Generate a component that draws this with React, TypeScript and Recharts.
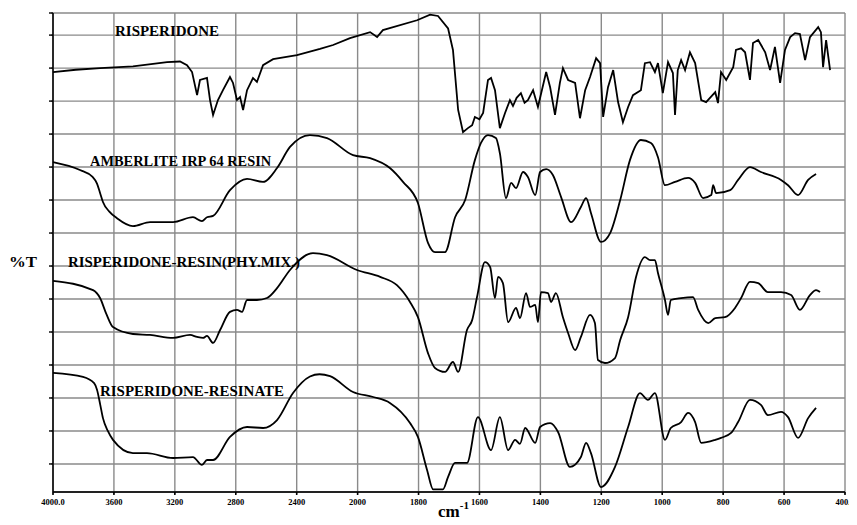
import React from "react";
import { CartesianGrid, Line, LineChart, XAxis, YAxis } from "recharts";

// wavenumber (cm-1) scale: 400 per division above 2000, 200 per division below
const X_TICKS = ["4000.0", "3600", "3200", "2800", "2400", "2000", "1800", "1600", "1400", "1200", "1000", "800", "600", "400.0"];
const Y_TICKS = [0, 1, 2, 3, 4, 5, 6, 7, 8, 9, 10, 11, 12, 13, 13.67];
const Y_MIN = -0.85;
const Y_MAX = 13.67;

// [wavenumber, %T in grid divisions]
const RISPERIDONE: [number, number][] = [
  [4000, 11.88], [3850, 11.95], [3691, 12.0], [3475, 12.05], [3251, 12.18], [3166, 12.2], [3120, 12.09], [3087, 11.88],
  [3054, 11.18], [3035, 11.64], [2989, 11.7], [2969, 11.03], [2949, 10.58], [2917, 11.03], [2884, 11.33],
  [2838, 11.73], [2818, 11.55], [2792, 11.03], [2772, 11.12], [2752, 10.73], [2726, 11.33], [2687, 11.7],
  [2661, 11.58], [2621, 12.09], [2555, 12.27], [2398, 12.39], [2247, 12.58], [2161, 12.7], [2050, 12.91],
  [1959, 13.09], [1936, 12.94], [1917, 13.15], [1805, 13.45], [1762, 13.62], [1736, 13.58], [1703, 13.2],
  [1687, 12.55], [1670, 10.73], [1654, 10.06], [1638, 10.18], [1624, 10.27], [1615, 10.52], [1600, 10.45], [1588, 10.64],
  [1572, 11.64], [1562, 11.7], [1549, 11.33], [1533, 10.18], [1516, 10.64], [1500, 11.03], [1490, 10.85], [1478, 11.1], [1464, 11.24],
  [1452, 10.95], [1441, 11.03], [1424, 11.33], [1408, 10.82], [1381, 11.88], [1368, 11.42], [1352, 10.58], [1336, 11.55],
  [1326, 12.0], [1309, 11.64], [1286, 11.55], [1270, 10.48], [1253, 11.33], [1237, 11.73], [1217, 12.3],
  [1204, 12.15], [1194, 10.52], [1178, 11.42], [1161, 11.94], [1145, 10.97], [1129, 10.36], [1112, 10.82],
  [1096, 11.18], [1070, 11.33], [1057, 12.15], [1040, 12.18], [1024, 11.88], [1014, 12.15], [998, 11.24],
  [981, 12.18], [965, 11.85], [958, 10.58], [949, 11.94], [938, 12.24], [925, 11.94], [909, 12.48],
  [892, 12.15], [872, 11.03], [856, 10.97], [826, 11.27], [817, 10.94], [807, 11.88], [790, 11.64],
  [767, 12.03], [758, 12.55], [741, 12.6], [728, 12.48], [712, 11.64], [702, 12.76], [685, 12.85],
  [662, 12.48], [646, 11.94], [630, 12.64], [613, 11.55], [597, 12.55], [580, 12.94], [564, 13.06],
  [548, 13.03], [531, 12.24], [515, 12.94], [488, 13.24], [479, 13.09], [472, 12.03], [462, 12.85], [449, 11.94],
];

const AMBERLITE: [number, number][] = [
  [4000, 9.15], [3823, 8.91], [3740, 8.7], [3711, 8.5], [3690, 8.2], [3672, 7.94], [3630, 7.65], [3580, 7.45], [3475, 7.21], [3363, 7.33],
  [3212, 7.33], [3081, 7.48], [3022, 7.36], [2989, 7.48], [2949, 7.52], [2838, 8.3], [2726, 8.64],
  [2621, 8.55], [2529, 8.97], [2444, 9.61], [2313, 9.97], [2201, 9.88], [2030, 9.36], [1959, 9.27],
  [1894, 8.97], [1851, 8.55], [1802, 7.91], [1769, 6.7], [1746, 6.42], [1713, 6.42], [1680, 7.48],
  [1647, 8.0], [1615, 9.21], [1595, 9.73], [1572, 9.97], [1546, 9.88], [1533, 9.42], [1513, 8.06],
  [1496, 8.52], [1480, 8.36], [1457, 8.85], [1441, 8.7], [1417, 8.15], [1401, 8.85], [1381, 8.94],
  [1359, 8.76], [1332, 8.09], [1299, 7.33], [1267, 7.79], [1250, 8.06], [1234, 7.61], [1201, 6.73],
  [1171, 7.0], [1138, 8.0], [1106, 9.21], [1070, 9.82], [1037, 9.73], [1014, 9.3], [991, 8.45],
  [958, 8.55], [915, 8.67], [892, 8.52], [866, 8.06], [839, 8.15], [833, 8.45], [823, 8.21],
  [777, 8.3], [751, 8.61], [712, 9.0], [676, 8.85], [610, 8.61], [587, 8.45], [554, 8.15],
  [521, 8.61], [495, 8.79],
];

const PHY_MIX: [number, number][] = [
  [4000, 5.55], [3737, 5.27], [3691, 5.03], [3650, 4.55], [3606, 4.15], [3475, 3.94], [3363, 3.91], [3212, 3.82],
  [3100, 3.91], [3054, 3.85], [3015, 3.82], [2989, 3.88], [2949, 3.67], [2903, 4.06], [2838, 4.61],
  [2792, 4.67], [2759, 4.61], [2726, 4.97], [2661, 4.97], [2595, 5.03], [2529, 5.33], [2444, 5.88],
  [2293, 6.39], [2201, 6.33], [2004, 5.88], [1926, 5.67], [1871, 5.42], [1828, 4.91], [1802, 4.45],
  [1769, 3.36], [1746, 2.91], [1713, 2.79], [1687, 3.09], [1670, 2.79], [1641, 4.06], [1624, 4.36],
  [1608, 5.06], [1582, 6.12], [1565, 5.97], [1549, 5.03], [1539, 5.67], [1523, 5.48], [1506, 4.3],
  [1480, 4.73], [1467, 4.42], [1447, 5.18], [1434, 4.76], [1417, 4.82], [1408, 4.3], [1398, 5.21],
  [1375, 5.18], [1365, 4.91], [1349, 5.18], [1326, 4.45], [1309, 3.97], [1286, 3.45], [1267, 3.85],
  [1237, 4.52], [1221, 4.27], [1211, 3.15], [1188, 3.06], [1155, 3.21], [1138, 3.76], [1112, 4.45],
  [1086, 5.67], [1057, 6.27], [1040, 6.18], [1024, 6.18], [1014, 5.79], [991, 4.97], [981, 4.52],
  [972, 4.97], [938, 5.03], [899, 5.06], [882, 4.67], [849, 4.27], [826, 4.42], [794, 4.45],
  [761, 4.73], [741, 5.03], [712, 5.52], [685, 5.48], [653, 5.21], [610, 5.21], [577, 5.12],
  [548, 4.67], [515, 5.12], [495, 5.27], [482, 5.21],
];

const RESINATE: [number, number][] = [
  [4000, 2.76], [3803, 2.64], [3730, 2.45], [3711, 2.25], [3690, 1.8], [3672, 1.39], [3640, 1.0], [3606, 0.73], [3475, 0.33], [3383, 0.33],
  [3212, 0.18], [3081, 0.21], [3022, -0.03], [2989, 0.12], [2949, 0.12], [2838, 0.82], [2726, 1.12],
  [2621, 1.09], [2529, 1.33], [2424, 2.15], [2313, 2.65], [2250, 2.72], [2181, 2.66], [2030, 2.18], [1949, 2.03],
  [1894, 1.85], [1828, 1.24], [1802, 0.82], [1772, -0.18], [1752, -0.77], [1720, -0.77], [1703, -0.39],
  [1680, 0.03], [1641, 0.03], [1605, 1.42], [1562, 0.42], [1533, 1.42], [1506, 0.42], [1483, 0.73],
  [1467, 0.61], [1450, 1.09], [1417, 0.64], [1401, 1.12], [1368, 1.24], [1342, 0.97], [1303, -0.09],
  [1267, 0.21], [1250, 0.64], [1234, 0.33], [1201, -0.7], [1155, -0.09], [1112, 1.12], [1073, 2.15],
  [1047, 1.94], [1024, 2.15], [991, 0.73], [972, 1.09], [938, 1.27], [915, 1.55], [892, 1.27],
  [872, 0.64], [826, 0.73], [807, 0.79], [774, 0.94], [751, 1.27], [712, 1.94], [676, 1.79],
  [653, 1.48], [610, 1.58], [587, 1.42], [554, 0.79], [521, 1.39], [495, 1.7],
];

// map wavenumber onto the instrument's two-speed abscissa (one unit per grid division)
const toU = (wn: number) => (wn >= 2000 ? (4000 - wn) / 400 : 5 + (2000 - wn) / 200);
const series = (pts: [number, number][]) => pts.map(([wn, t]) => ({ u: toU(wn), t }));

const LABELS = [
  { text: "RISPERIDONE", x: 115, y: 37, w: 104 },
  { text: "AMBERLITE IRP 64 RESIN", x: 90, y: 167, w: 182 },
  { text: "RISPERIDONE-RESIN(PHY.MIX.)", x: 68, y: 268, w: 232 },
  { text: "RISPERIDONE-RESINATE", x: 100, y: 397, w: 184 },
];

const serif = "'Liberation Serif', 'Times New Roman', serif";
const MARGIN = { top: 13, right: 12, bottom: 13, left: 43 };
const abs = (z: number): React.CSSProperties => ({ position: "absolute", left: 0, top: 0, zIndex: z });

// squeeze a bold serif caption to the width it has in the scan
function Caption({ text, x, y, w, size = 14 }: { text: string; x: number; y: number; w: number; size?: number }) {
  const font = `700 ${size}px ${serif}`;
  let natural = w;
  if (typeof document !== "undefined") {
    const ctx = document.createElement("canvas").getContext("2d");
    if (ctx) {
      ctx.font = font;
      natural = ctx.measureText(text).width || w;
    }
  }
  return (
    <div
      style={{
        position: "absolute", left: x, top: y - size * 0.84, font, lineHeight: `${size}px`, zIndex: 4,
        whiteSpace: "nowrap", color: "#000", transform: `scaleX(${w / natural})`, transformOrigin: "0 0",
      }}
    >
      {text}
    </div>
  );
}

export default function App() {
  const lineProps = { dataKey: "t", dot: false, stroke: "#000", strokeWidth: 1.8, isAnimationActive: false };
  return (
    <div style={{ position: "relative", left: -8, top: -8, width: 857, height: 525, background: "#fff" }}>
      {/* grid layer: plain axes, same margins and domains */}
      <div style={abs(0)}>
        <LineChart width={857} height={525} margin={MARGIN}>
          <CartesianGrid stroke="#8a8a8a" strokeWidth={1.4} />
          <XAxis type="number" dataKey="u" domain={[0, 13]} ticks={X_TICKS.map((_, i) => i)} interval={0} height={20} />
          <YAxis type="number" domain={[Y_MIN, Y_MAX]} ticks={Y_TICKS} interval={0} width={10} />
          <Line data={series(RESINATE)} dataKey="t" dot={false} stroke="#000" strokeOpacity={0} isAnimationActive={false} />
        </LineChart>
      </div>
      {/* hide the grid layer's own tick labels outside the plot */}
      <div style={{ position: "absolute", left: 0, top: 0, width: 51, height: 525, background: "#fff", zIndex: 1 }} />
      <div style={{ position: "absolute", left: 0, top: 494, width: 857, height: 31, background: "#fff", zIndex: 1 }} />
      <div style={abs(2)}>
        <LineChart width={857} height={525} margin={MARGIN}>
          <XAxis
            type="number"
            dataKey="u"
            domain={[0, 13]}
            ticks={X_TICKS.map((_, i) => i)}
            interval={0}
            tickFormatter={(v: number) => X_TICKS[Math.round(v)]}
            height={20}
            tickSize={3}
            tickMargin={4}
            stroke="#000"
            strokeWidth={1.6}
            tick={{ fontSize: 8.5, fontWeight: 700, fontFamily: serif, fill: "#000" }}
          />
          <YAxis
            type="number"
            domain={[Y_MIN, Y_MAX]}
            ticks={Y_TICKS}
            interval={0}
            width={10}
            tickSize={4}
            tickFormatter={() => ""}
            stroke="#000"
            strokeWidth={1.4}
          />
          <Line data={series(RISPERIDONE)} type="linear" {...lineProps} />
          <Line data={series(AMBERLITE)} type="monotone" {...lineProps} />
          <Line data={series(PHY_MIX)} type="monotone" {...lineProps} />
          <Line data={series(RESINATE)} type="monotone" {...lineProps} />
        </LineChart>
      </div>
      {LABELS.map((l) => (
        <Caption key={l.text} {...l} />
      ))}
      <Caption text="%T" x={9} y={268} w={28} size={15} />
      <div style={{ position: "absolute", left: 438, top: 503, font: `700 17px ${serif}`, lineHeight: "17px", color: "#000", zIndex: 4 }}>
        cm<sup style={{ fontSize: 11, verticalAlign: "8px", lineHeight: 0 }}>-1</sup>
      </div>
    </div>
  );
}
